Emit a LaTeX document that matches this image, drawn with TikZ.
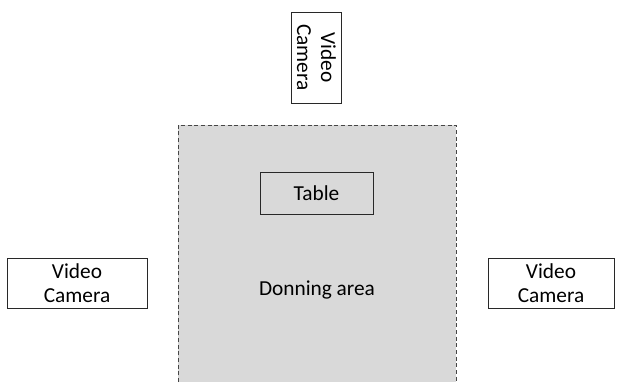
\documentclass[tikz,border=0pt]{standalone}
\usepackage{fontspec}
\setmainfont{Carlito}
\tikzset{every picture/.style={line width=0.75pt}}
\tikzset{
  cambox/.style={draw={rgb, 255:red, 40; green, 40; blue, 40}, fill=white, align=center, inner sep=0pt, font=\fontsize{16}{18}\selectfont},
}
\begin{document}
\begin{tikzpicture}[x=0.75pt,y=0.75pt,yscale=-1,xscale=1]
\useasboundingbox (0,0) rectangle (621,382);

%Shape: Rectangle [id:donning]
\fill [color={rgb, 255:red, 217; green, 217; blue, 217 }] (178,125) rectangle (456,382);
\draw [color={rgb, 255:red, 70; green, 70; blue, 70 }, dashed, dash pattern=on 3pt off 2pt] (178,382) -- (178,125) -- (456,125) -- (456,382);

% Text Node
\draw (317,290) node (donning) [font=\fontsize{16}{18}\selectfont] {Donning area};
% Text Node
\draw (316.5,193) node (table) [cambox, fill={rgb, 255:red, 217; green, 217; blue, 217 }, minimum width=84.75pt, minimum height=31.5pt] {Table};
% Text Node
\draw (316.5,57.5) node (camtop) [cambox, rotate=-90, minimum width=68.25pt, minimum height=37pt] {Video\\Camera};
% Text Node
\draw (77,283) node (camleft) [cambox, minimum width=105pt, minimum height=37.5pt] {Video\\Camera};
% Text Node
\draw (551,283) node (camright) [cambox, minimum width=94.5pt, minimum height=37.5pt] {Video\\Camera};

\end{tikzpicture}
\end{document}
